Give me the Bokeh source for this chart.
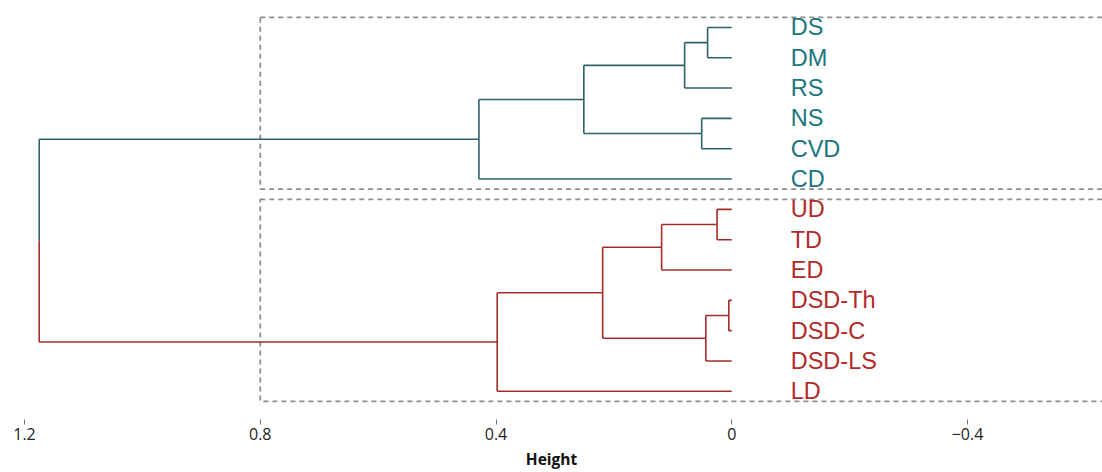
from bokeh.plotting import figure
from bokeh.models import Range1d, FixedTicker
from bokeh.core.properties import value
from bokeh.embed import file_html
from bokeh.resources import INLINE

# Leaves, top to bottom
labels = ["DS", "DM", "RS", "NS", "CVD", "CD",
          "UD", "TD", "ED", "DSD-Th", "DSD-C", "DSD-LS", "LD"]
leaf_cluster = [0, 0, 0, 0, 0, 0, 1, 1, 1, 1, 1, 1, 1]

# hclust-style merges: negative = leaf (1-based), positive = earlier merge (1-based)
merge_left = [-1, 1, -4, 2, 4, -7, 6, -10, 8, 7, 10, 5]
merge_right = [-2, -3, -5, 3, -6, -8, -9, -11, -12, 9, -13, 11]
merge_height = [0.041, 0.080, 0.051, 0.251, 0.429, 0.025, 0.119,
                0.005, 0.044, 0.219, 0.398, 1.175]

tick_values = [1.2, 0.8, 0.4, 0, -0.4]
tick_labels = ["1.2", "0.8", "0.4", "0", "\u22120.4"]

line_colors = ["#2E6169", "#A52A2A"]
text_colors = ["#1B7580", "#B22A2A"]

# node positions
node_y, node_h, node_c = {}, {}, {}


def child_info(c):
    if c < 0:
        i = -c - 1
        return float(i), 0.0, leaf_cluster[i]
    return node_y[c], node_h[c], node_c[c]


for k in range(len(merge_height)):
    yl, _, cl = child_info(merge_left[k])
    yr, _, cr = child_info(merge_right[k])
    node_y[k + 1] = (yl + yr) / 2
    node_h[k + 1] = merge_height[k]
    node_c[k + 1] = cl if cl == cr else -1

x0s, y0s, x1s, y1s, cols = [], [], [], [], []
for k in range(len(merge_height)):
    h = merge_height[k]
    ny = node_y[k + 1]
    for c in (merge_left[k], merge_right[k]):
        cy, ch, cc = child_info(c)
        col = line_colors[cc] if cc >= 0 else "#555555"
        # vertical part
        x0s.append(h); y0s.append(ny); x1s.append(h); y1s.append(cy); cols.append(col)
        # horizontal part
        x0s.append(h); y0s.append(cy); x1s.append(ch); y1s.append(cy); cols.append(col)

p = figure(width=1102, height=472, output_backend="svg", toolbar_location=None,
           x_range=Range1d(1.2407, -0.629), y_range=Range1d(12.93, -0.888),
           y_axis_location=None, min_border=0, min_border_bottom=52,
           min_border_left=0, min_border_right=0, min_border_top=0)
p.outline_line_color = None
p.grid.visible = False

# cluster rectangles
for cl in (0, 1):
    idx = [i for i, c in enumerate(leaf_cluster) if c == cl]
    p.quad(left=0.8, right=-0.7, top=min(idx) - 0.33, bottom=max(idx) + 0.33,
           fill_color=None, line_color="#8E8E8E", line_width=1.8, line_dash="5 4")

p.segment(x0=x0s, y0=y0s, x1=x1s, y1=y1s, line_color=cols, line_width=1.6)

p.text(x=[-0.1] * len(labels), y=list(range(len(labels))), text=labels,
       text_font=value("Liberation Sans"), text_font_size="23.5px",
       text_baseline="middle", text_align="left",
       text_color=[text_colors[c] for c in leaf_cluster])

ax = p.xaxis[0]
ax.ticker = FixedTicker(ticks=tick_values)
ax.major_label_overrides = {v: s for v, s in zip(tick_values, tick_labels)}
ax.axis_line_color = None
ax.major_tick_in = 0
ax.major_tick_out = 5
ax.major_tick_line_color = "#777777"
ax.minor_tick_line_color = None
ax.major_label_text_font = "Open Sans"
ax.major_label_text_font_size = "16px"
ax.major_label_text_color = "#222222"
ax.major_label_standoff = 3
ax.axis_label = "Height"
ax.axis_label_text_font = "Open Sans"
ax.axis_label_text_font_style = "bold"
ax.axis_label_text_font_size = "15.5px"
ax.axis_label_text_color = "#111111"
ax.axis_label_standoff = 5

open("out.html", "w").write(file_html(p, INLINE))
